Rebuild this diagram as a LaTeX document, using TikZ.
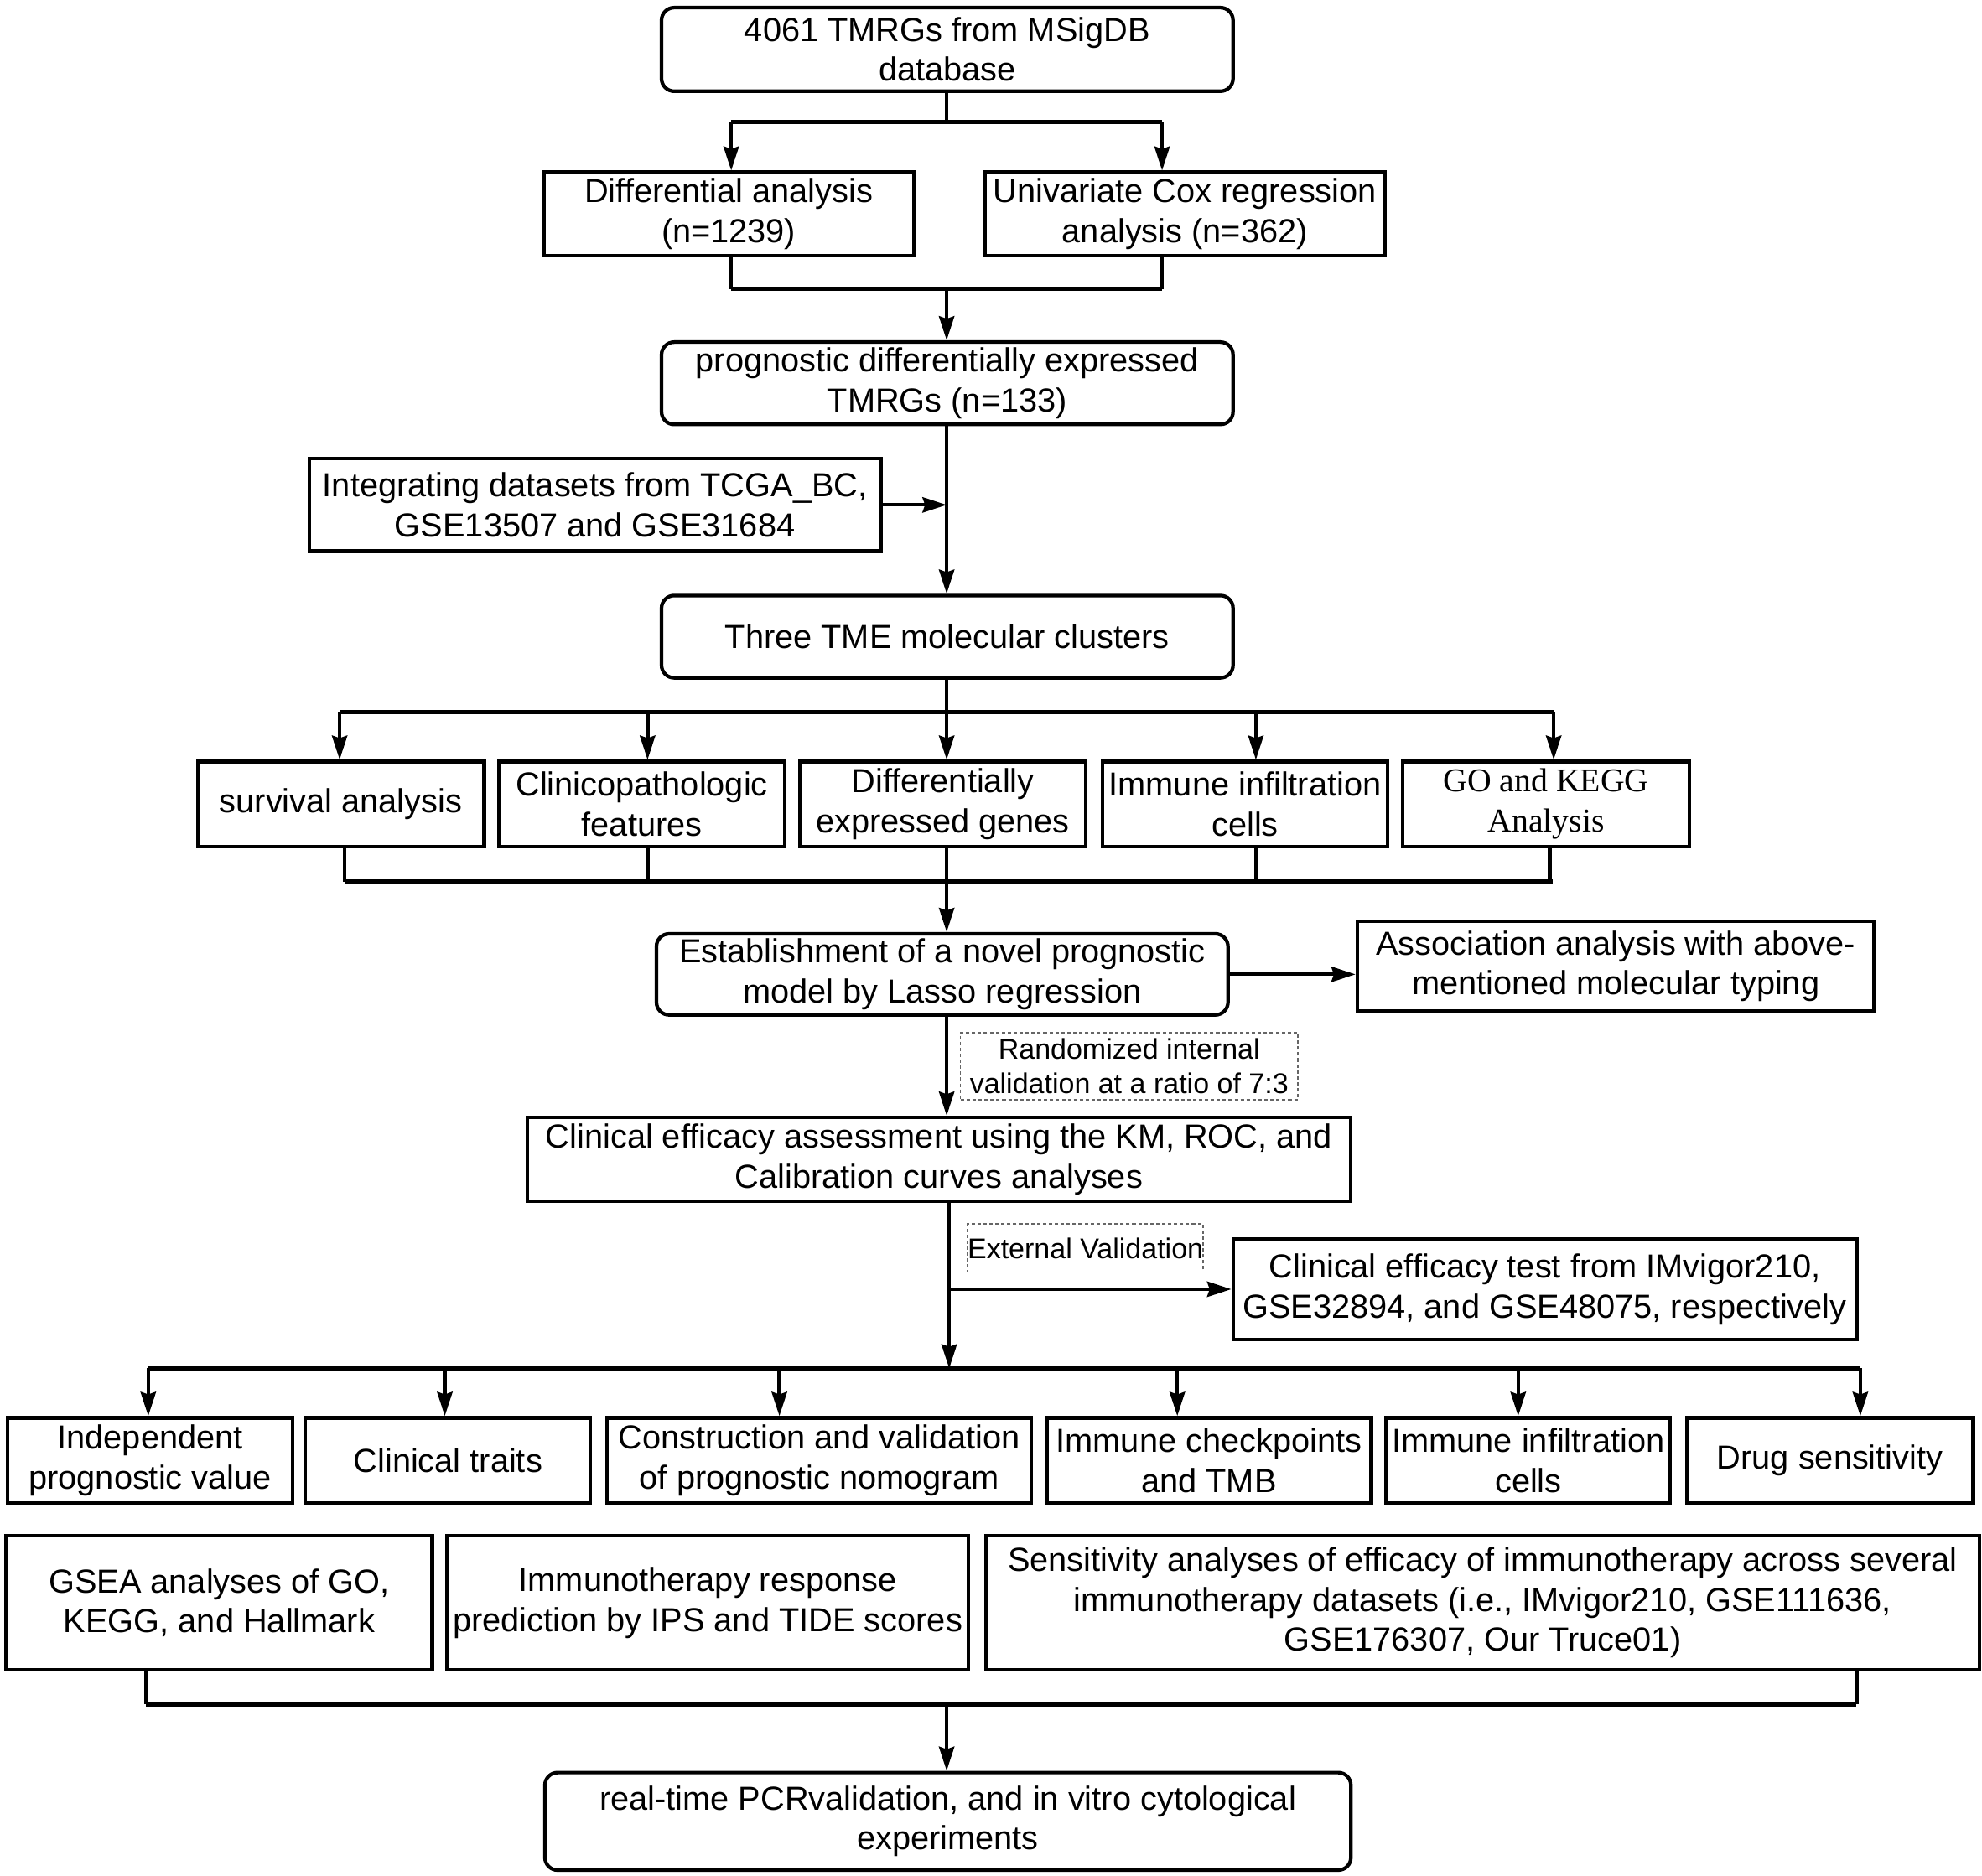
\documentclass[tikz,border=0pt]{standalone}
\usepackage{fontspec}
\setmainfont{Liberation Sans}
\newfontfamily\timesfont{Liberation Serif}
\usetikzlibrary{arrows.meta}

\tikzset{
  box/.style={draw, line width=2.8pt, inner sep=0pt, align=center,
    font=\fontsize{26.3}{31.5}\selectfont},
  rbox/.style={box, rounded corners=10pt},
  note/.style={draw, gray!80!black, line width=1pt, dash pattern=on 2.7pt off 2pt,
    inner sep=0pt, align=center, text=black, font=\fontsize{22.5}{27.5}\selectfont},
  link/.style={line width=2.8pt},
  bar/.style={line width=3.4pt},
  arr/.style={line width=2.8pt, -{Stealth[length=19pt,width=12pt,inset=2pt]}}
}

\begin{document}
\begin{tikzpicture}[x=1pt,y=-1pt]
    \useasboundingbox (0,0) rectangle (1564,1480);
    % boxes
    \node[rbox, minimum width=451pt, minimum height=66pt] (msig) at (747.5,39) {4061 TMRGs from MSigDB\\database};
    \node[box, minimum width=292pt, minimum height=66pt] (diff) at (575,169) {Differential analysis\\(n=1239)};
    \node[box, minimum width=316pt, minimum height=66pt] (ucox) at (935,169) {Univariate Cox regression\\analysis (n=362)};
    \node[rbox, minimum width=451pt, minimum height=65pt] (pde) at (747.5,302.5) {prognostic differentially expressed\\TMRGs (n=133)};
    \node[box, minimum width=451pt, minimum height=73pt] (intg) at (469.5,398.5) {Integrating datasets from TCGA\_BC,\\GSE13507 and GSE31684};
    \node[rbox, minimum width=451pt, minimum height=65pt] (tme) at (747.5,502.5) {Three TME molecular clusters};
    \node[box, minimum width=226pt, minimum height=67pt] (surv) at (269,634.5) {survival analysis};
    \node[box, minimum width=225pt, minimum height=67pt] (clin) at (506.5,634.5) {Clinicopathologic\\features};
    \node[box, minimum width=226pt, minimum height=67pt] (deg) at (744,634.5) {Differentially\\expressed genes};
    \node[box, minimum width=225pt, minimum height=67pt] (imm) at (982.5,634.5) {Immune infiltration\\cells};
    \node[box, minimum width=226pt, minimum height=67pt, font=\timesfont\fontsize{26.3}{31.5}\selectfont] (gokegg) at (1220,634.5) {GO and KEGG\\Analysis\rule[-4pt]{0pt}{4pt}};
    \node[rbox, minimum width=451pt, minimum height=64pt] (lasso) at (743.5,769) {Establishment of a novel prognostic\\model by Lasso regression};
    \node[box, minimum width=408pt, minimum height=71pt] (assoc) at (1275,762.5) {Association analysis with above-\\mentioned molecular typing};
    \node[note, minimum width=266pt, minimum height=53pt] (intval) at (891,841.5) {Randomized internal\\validation at a ratio of 7:3};
    \node[box, minimum width=650pt, minimum height=66pt] (eff) at (741,915) {Clinical efficacy assessment using the KM, ROC, and\\Calibration curves analyses};
    \node[note, minimum width=181pt, minimum height=38pt] (extval) at (856.5,985) {External Validation};
    \node[box, minimum width=492pt, minimum height=79pt] (test) at (1219,1017.5) {Clinical efficacy test from IMvigor210,\\GSE32894, and GSE48075, respectively};
    \node[box, minimum width=225pt, minimum height=67pt] (indep) at (118.5,1152.5) {Independent\\prognostic value};
    \node[box, minimum width=225pt, minimum height=67pt] (trait) at (353.5,1152.5) {Clinical traits};
    \node[box, minimum width=335pt, minimum height=67pt] (nomo) at (646.5,1152.5) {Construction and validation\\of prognostic nomogram};
    \node[box, minimum width=256pt, minimum height=67pt] (ichk) at (954,1152.5) {Immune checkpoints\\and TMB};
    \node[box, minimum width=224pt, minimum height=67pt] (icell) at (1206,1152.5) {Immune infiltration\\cells};
    \node[box, minimum width=226pt, minimum height=67pt] (drug) at (1444,1152.5) {Drug sensitivity};
    \node[box, minimum width=336pt, minimum height=106pt] (gsea) at (173,1265) {GSEA analyses of GO,\\KEGG, and Hallmark};
    \node[box, minimum width=411pt, minimum height=106pt] (ips) at (558.5,1265) {Immunotherapy response\\prediction by IPS and TIDE scores};
    \node[box, minimum width=784pt, minimum height=106pt] (sens) at (1170,1265) {Sensitivity analyses of efficacy of immunotherapy across several\\immunotherapy datasets (i.e., IMvigor210, GSE111636,\\GSE176307, Our Truce01)};
    \node[rbox, minimum width=636pt, minimum height=77pt] (pcr) at (748,1437.5) {real-time PCRvalidation, and in vitro cytological\\experiments};

    % junctions
    \coordinate (j1) at (747,96);
    \coordinate (j2) at (747,228);
    \coordinate (j3) at (747,562);
    \coordinate (j4) at (747,696);
    \coordinate (j5) at (749,1080);
    \coordinate (j6) at (747,1345);

    % connectors
    \draw[link] (msig.south -| j1) -- (j1);
    \draw[bar] (577,96) -- (917,96);
    \draw[arr] (577,96) -- (diff.north -| 577,0);
    \draw[arr] (917,96) -- (ucox.north -| 917,0);
    \draw[link] (diff.south -| 577,0) -- (577,228);
    \draw[link] (ucox.south -| 917,0) -- (917,228);
    \draw[bar] (577,228) -- (917,228);
    \draw[arr] (j2) -- (pde.north -| j2);
    \draw[arr] (pde.south -| j2) -- (tme.north -| j2);
    \draw[arr] (intg.east) -- (intg.east -| j2);

    \draw[link] (tme.south -| j3) -- (j3);
    \draw[bar] (268,562) -- (1226,562);
    \foreach \n/\x in {surv/268, clin/511, deg/747, imm/991, gokegg/1226}
        \draw[arr] (\x,562) -- (\n.north -| \x,0);
    \foreach \n/\x in {surv/272, clin/511, deg/747, imm/991, gokegg/1223}
        \draw[link] (\n.south -| \x,0) -- (\x,696);
    \draw[bar] (272,696) -- (1225,696);
    \draw[arr] (j4) -- (lasso.north -| j4);

    \draw[arr] (lasso.east) -- (assoc.west |- lasso.east);
    \draw[arr] (lasso.south -| j4) -- (eff.north -| j4);
    \draw[arr] (eff.south -| j5) -- (j5);
    \draw[arr] (test.west -| j5) -- (test.west);

    \draw[bar] (117,1080) -- (1468,1080);
    \foreach \n/\x in {indep/117, trait/351, nomo/615, ichk/929, icell/1198, drug/1468}
        \draw[arr] (\x,1080) -- (\n.north -| \x,0);

    \draw[link] (gsea.south -| 115,0) -- (115,1345);
    \draw[link] (sens.south -| 1465,0) -- (1465,1345);
    \draw[bar] (115,1345) -- (1465,1345);
    \draw[arr] (j6) -- (pcr.north -| j6);
\end{tikzpicture}
\end{document}
